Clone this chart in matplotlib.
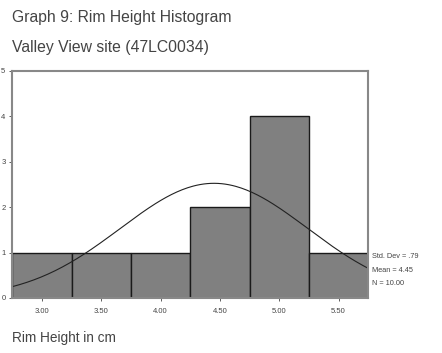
import numpy as np
import matplotlib
matplotlib.use('Agg')
import matplotlib.pyplot as plt

plt.rcParams['font.family'] = ['Liberation Sans', 'DejaVu Sans']

# histogram of rim heights (bin centres, counts)
bin_centres = [3.00, 3.50, 4.00, 4.50, 5.00, 5.50]
counts = [1, 1, 1, 2, 4, 1]
tick_labels = ['3.00', '3.50', '4.00', '4.50', '5.00', '5.50']
bin_width = 0.5
std_dev = 0.79
mean = 4.45
n = 10

fig = plt.figure(figsize=(4.42, 3.53), dpi=100)
ax = fig.add_axes([0.028, 0.156, 0.805, 0.643])

ax.bar(bin_centres, counts, width=bin_width, color='#808080',
       edgecolor='#1a1a1a', linewidth=1.0)

# normal curve scaled to counts
xs = np.linspace(bin_centres[0] - bin_width / 2, bin_centres[-1] + bin_width / 2, 200)
ys = n * bin_width / (std_dev * np.sqrt(2 * np.pi)) * np.exp(-0.5 * ((xs - mean) / std_dev) ** 2)
ax.plot(xs, ys, color='#222222', linewidth=0.8)

ax.set_xlim(bin_centres[0] - bin_width / 2, bin_centres[-1] + bin_width / 2)
ax.set_ylim(0, 5)
ax.set_xticks(bin_centres)
ax.set_xticklabels(tick_labels)
ax.set_yticks(range(6))
ax.tick_params(axis='both', labelsize=5.5, colors='#444444', length=2, width=0.6)
ax.tick_params(axis='x', pad=5)
ax.tick_params(axis='y', pad=3)
for s in ax.spines.values():
    s.set_color('#888888')
    s.set_linewidth(1.5)

fig.text(0.027, 0.951, 'Graph 9: Rim Height Histogram', fontsize=11.3, color='#444444', va='center')
fig.text(0.027, 0.865, 'Valley View site (47LC0034)', fontsize=11.3, color='#444444', va='center')
fig.text(0.027, 0.042, 'Rim Height in cm', fontsize=9.8, color='#444444', va='center')

stats = ['Std. Dev = .79', 'Mean = 4.45', 'N = 10.00']
for i, t in enumerate(stats):
    fig.text(0.842, 0.272 - i * 0.037, t, fontsize=5.3, color='#444444', va='center')

fig.savefig('out.png', dpi=100)
